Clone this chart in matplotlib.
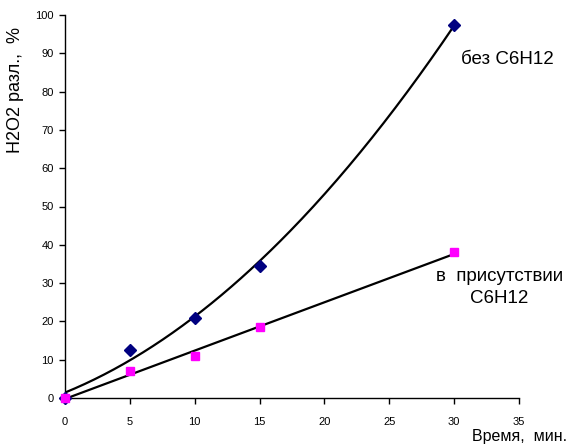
import numpy as np
import matplotlib.pyplot as plt

plt.rcParams['font.family'] = ['Liberation Sans', 'DejaVu Sans']

t = [0, 5, 10, 15, 30]
no_c6h12 = [0, 12.5, 21, 34.5, 97.5]
with_c6h12 = [0, 7, 11, 18.5, 38]

fig = plt.figure(figsize=(5.82, 4.45), dpi=100)
ax = fig.add_axes([65 / 582, 47 / 445, 454 / 582, 383 / 445])

# trend lines, as in the Excel original
xs = np.linspace(0, 30, 200)
p2 = np.polyfit(t, no_c6h12, 2)
p1 = np.polyfit(t, with_c6h12, 1)
ax.plot(xs, np.polyval(p2, xs), color='black', lw=1.6, zorder=2)
ax.plot(xs, np.polyval(p1, xs), color='black', lw=1.6, zorder=2)

ax.plot(t, no_c6h12, 'D', color='#000080', ms=6, zorder=3, clip_on=False)
ax.plot(t, with_c6h12, 's', color='#ff00ff', ms=6, zorder=3, clip_on=False)

ax.set_xlim(0, 35)
ax.set_ylim(0, 100)
ax.set_xticks(range(0, 36, 5))
ax.set_yticks(range(0, 101, 10))
for s in ['top', 'right']:
    ax.spines[s].set_visible(False)
for s in ['left', 'bottom']:
    ax.spines[s].set_linewidth(1.0)
ax.tick_params(axis='x', length=4, width=1, pad=10, labelsize=8)
ax.tick_params(axis='y', length=4, width=1, pad=4, labelsize=8)

ax.text(30.5, 88.3, 'без C6H12', fontsize=13.5, va='center', ha='left')
ax.text(33.5, 28.8, 'в  присутствии\nC6H12', fontsize=13.5, va='center', ha='center',
        linespacing=1.4)

fig.text(567 / 582, 1 - 437 / 445, 'Время,  мин.', fontsize=11.5, ha='right', va='center')
fig.text(16 / 582, 1 - 90 / 445, 'H2O2 разл.,  %', fontsize=13, ha='center', va='center',
         rotation=90)

fig.savefig('out.png', dpi=100)
